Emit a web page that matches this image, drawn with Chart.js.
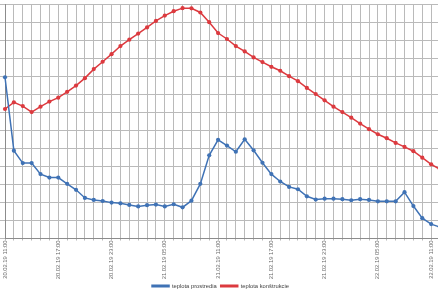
<!DOCTYPE html>
<html>
<head>
<meta charset="utf-8">
<script src="https://cdn.jsdelivr.net/npm/chart.js@4"></script>
<style>
html,body{margin:0;padding:0;background:#fff;}
#wrap{width:438px;height:292px;overflow:hidden;position:relative;}
canvas{display:block;}
</style>
</head>
<body>
<div id="wrap"><canvas id="c" width="447" height="292"></canvas></div>
<script>
const categories = [
"20.02.19 11:00","20.02.19 12:00","20.02.19 13:00","20.02.19 14:00","20.02.19 15:00","20.02.19 16:00",
"20.02.19 17:00","20.02.19 18:00","20.02.19 19:00","20.02.19 20:00","20.02.19 21:00","20.02.19 22:00",
"20.02.19 23:00","21.02.19 00:00","21.02.19 01:00","21.02.19 02:00","21.02.19 03:00","21.02.19 04:00",
"21.02.19 05:00","21.02.19 06:00","21.02.19 07:00","21.02.19 08:00","21.02.19 09:00","21.02.19 10:00",
"21.02.19 11:00","21.02.19 12:00","21.02.19 13:00","21.02.19 14:00","21.02.19 15:00","21.02.19 16:00",
"21.02.19 17:00","21.02.19 18:00","21.02.19 19:00","21.02.19 20:00","21.02.19 21:00","21.02.19 22:00",
"21.02.19 23:00","22.02.19 00:00","22.02.19 01:00","22.02.19 02:00","22.02.19 03:00","22.02.19 04:00",
"22.02.19 05:00","22.02.19 06:00","22.02.19 07:00","22.02.19 08:00","22.02.19 09:00","22.02.19 10:00",
"22.02.19 11:00","22.02.19 12:00"
];
const shownTickLabels = ["20.02.19 11:00","20.02.19 17:00","20.02.19 23:00","21.02.19 05:00","21.02.19 11:00","21.02.19 17:00","21.02.19 23:00","22.02.19 05:00","22.02.19 11:00"];
const teplotaProstredia = [
8.94,4.87,4.18,4.18,3.57,3.38,3.38,3.03,2.70,2.25,
2.14,2.08,1.99,1.95,1.86,1.78,1.85,1.88,1.78,1.90,
1.73,2.10,3.03,4.61,5.47,5.15,4.81,5.50,4.89,4.20,
3.57,3.16,2.86,2.73,2.34,2.16,2.21,2.21,2.18,2.12,
2.18,2.14,2.06,2.06,2.06,2.57,1.80,1.13,0.80,0.63
];
const teplotaKonstrukcie = [
7.18,7.55,7.34,7.01,7.31,7.59,7.81,8.13,8.48,8.89,
9.39,9.80,10.22,10.67,11.02,11.36,11.70,12.06,12.36,12.60,
12.77,12.76,12.53,11.99,11.39,11.06,10.67,10.37,10.04,9.78,
9.52,9.30,9.00,8.72,8.35,8.01,7.66,7.31,7.01,6.70,
6.37,6.06,5.78,5.56,5.30,5.08,4.84,4.48,4.11,3.84
];
const seriesNames = ["teplota prostredia","teplota konštrukcie"];
const blue = "#3f72b5", red = "#dc3a3f";

const legendShift = {
  id:'legendShift',
  afterUpdate(chart){
    const lg = chart.legend; if(!lg) return;
    lg.left -= 3; lg.right -= 3;
    if (lg.adjustHitBoxes) lg.adjustHitBoxes();
  },
  afterDraw(chart){
    const lg = chart.legend; if(!lg || !lg.legendHitBoxes) return;
    const ctx = chart.ctx;
    lg.legendHitBoxes.forEach((hb,i)=>{
      const ds = chart.data.datasets[i];
      const bw = lg.options.labels.boxWidth;
      ctx.save();
      ctx.fillStyle = ds.borderColor;
      ctx.beginPath();
      ctx.arc(hb.left + bw/2, hb.top + hb.height/2, 1.9, 0, Math.PI*2);
      ctx.fill();
      ctx.restore();
    });
  }
};

new Chart(document.getElementById('c'), {
  type:'line',
  data:{
    labels:categories,
    datasets:[
      {label:seriesNames[0],data:teplotaProstredia,borderColor:blue,backgroundColor:blue,borderWidth:1.5,pointRadius:2.1,pointBackgroundColor:blue,pointBorderWidth:0,tension:0},
      {label:seriesNames[1],data:teplotaKonstrukcie,borderColor:red,backgroundColor:red,borderWidth:1.5,pointRadius:2.1,pointBackgroundColor:red,pointBorderWidth:0,tension:0}
    ]
  },
  options:{
    responsive:false,
    animation:false,
    devicePixelRatio:1,
    layout:{padding:{top:4,left:0,right:0,bottom:-7}},
    scales:{
      x:{
        offset:false,
        grid:{color:'#bababa',lineWidth:1,drawTicks:true,tickLength:2},
        border:{color:'#8c8c8c'},
        ticks:{
          autoSkip:false,minRotation:90,maxRotation:90,padding:0,
          color:'#6a6a6a',font:{family:'Liberation Sans',size:5.8},
          callback:function(v,i){const l=categories[i];return shownTickLabels.includes(l)?l:'';}
        }
      },
      y:{
        min:0,max:13,
        grid:{color:'#bababa',lineWidth:1,drawTicks:true,tickLength:5},
        border:{color:'#8c8c8c'},
        ticks:{display:false,stepSize:1}
      }
    },
    plugins:{
      legend:{
        position:'bottom',
        labels:{boxWidth:17,boxHeight:1.5,padding:4,color:'#404040',font:{family:'Liberation Sans',size:5.8}}
      },
      tooltip:{enabled:false}
    }
  },
  plugins:[legendShift]
});
</script>
</body>
</html>
